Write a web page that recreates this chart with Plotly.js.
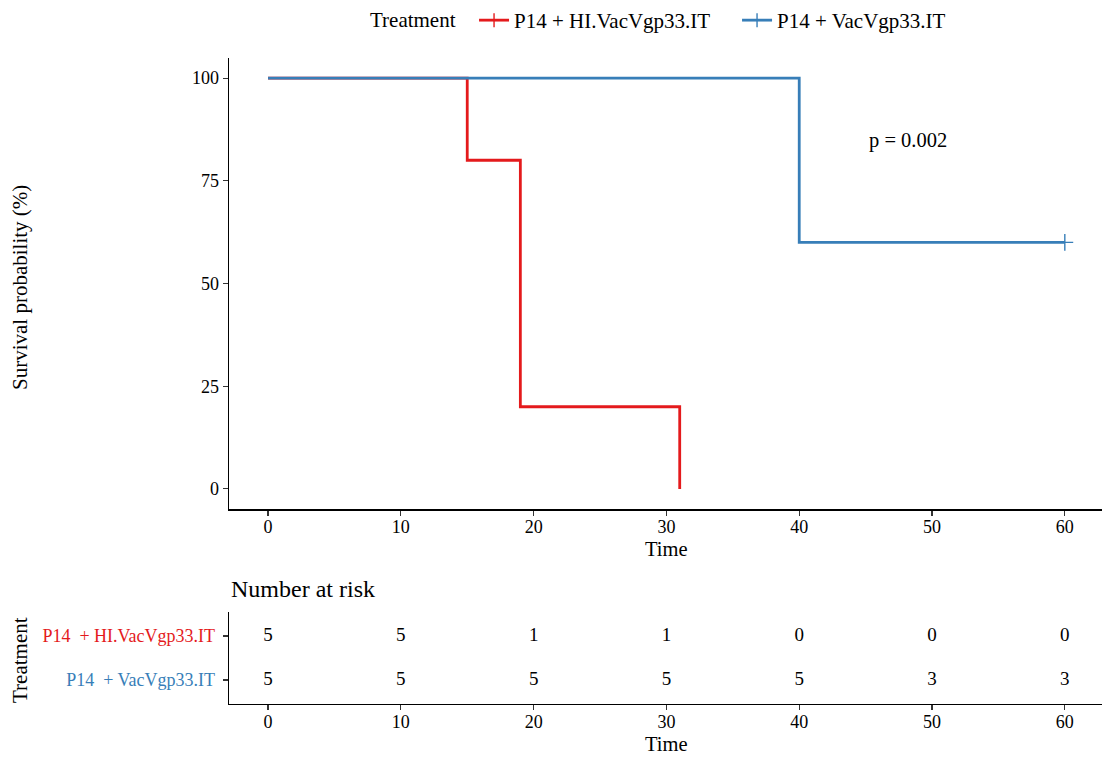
<!DOCTYPE html>
<html>
<head>
<meta charset="utf-8">
<script src="https://cdn.plot.ly/plotly-3.0.1.min.js"></script>
<style>
  html, body { margin: 0; padding: 0; background: #fff; }
  #chart { width: 1102px; height: 758px; }
</style>
</head>
<body>
<div id="chart"></div>
<script>
// Kaplan-Meier survival curves by treatment group
const groupNames = ['P14 + HI.VacVgp33.IT', 'P14 + VacVgp33.IT'];
const tableLabels = ['P14\u00a0 + HI.VacVgp33.IT', 'P14\u00a0 + VacVgp33.IT'];
const groupColors = ['#E41A1C', '#377EB8'];

// step points (time, survival %)
const hiTime = [0, 15, 19, 31];
const hiSurv = [100, 80, 20, 0];
const vacTime = [0, 40, 60];
const vacSurv = [100, 60, 60];

// censored observations
const vacCensorTime = [60];
const vacCensorSurv = [60];

const pValueText = 'p = 0.002';

// number at risk table
const riskTimes = [0, 10, 20, 30, 40, 50, 60];
const hiAtRisk = [5, 5, 1, 1, 0, 0, 0];
const vacAtRisk = [5, 5, 5, 5, 5, 3, 3];

const FONT = '"Liberation Serif", "Times New Roman", serif';
const xRange = [-2.94, 62.8];

const traces = [
  { x: hiTime, y: hiSurv, mode: 'lines', line: { shape: 'hv', color: groupColors[0], width: 2.8 },
    showlegend: false, xaxis: 'x', yaxis: 'y', hoverinfo: 'skip' },
  { x: vacTime, y: vacSurv, mode: 'lines', line: { shape: 'hv', color: groupColors[1], width: 2.8 },
    showlegend: false, xaxis: 'x', yaxis: 'y', hoverinfo: 'skip' },
  { x: vacCensorTime, y: vacCensorSurv, mode: 'markers',
    marker: { symbol: 'cross-thin-open', size: 12, color: groupColors[1],
              line: { color: groupColors[1], width: 1.4 } },
    showlegend: false, xaxis: 'x', yaxis: 'y', hoverinfo: 'skip' },
  // legend keys
  { x: [null], y: [null], mode: 'lines+markers', name: groupNames[0],
    line: { color: groupColors[0], width: 2.8 },
    marker: { symbol: 'line-ns-open', size: 10, color: groupColors[0],
              line: { color: groupColors[0], width: 1.4 } },
    xaxis: 'x', yaxis: 'y' },
  { x: [null], y: [null], mode: 'lines+markers', name: groupNames[1],
    line: { color: groupColors[1], width: 2.8 },
    marker: { symbol: 'line-ns-open', size: 10, color: groupColors[1],
              line: { color: groupColors[1], width: 1.4 } },
    xaxis: 'x', yaxis: 'y' },
  // risk table rows
  { x: riskTimes, y: riskTimes.map(() => 1), text: hiAtRisk.map(String), mode: 'text',
    textfont: { family: FONT, size: 19, color: '#000' }, showlegend: false,
    xaxis: 'x2', yaxis: 'y2', hoverinfo: 'skip' },
  { x: riskTimes, y: riskTimes.map(() => 0), text: vacAtRisk.map(String), mode: 'text',
    textfont: { family: FONT, size: 19, color: '#000' }, showlegend: false,
    xaxis: 'x2', yaxis: 'y2', hoverinfo: 'skip' }
];

const axisCommon = {
  showgrid: false, zeroline: false, showline: true, linecolor: '#000', linewidth: 1.3,
  ticks: 'outside', ticklen: 5, tickwidth: 1.1, tickcolor: '#333',
  tickfont: { family: FONT, size: 18, color: '#000' }
};

const layout = {
  width: 1102, height: 758,
  margin: { l: 229, r: 0, t: 0, b: 0 },
  paper_bgcolor: '#fff', plot_bgcolor: '#fff',
  font: { family: FONT, color: '#000' },
  showlegend: true,
  legend: {
    orientation: 'h', x: 0.1592, xanchor: 'left', y: 1.0, yanchor: 'top',
    title: { text: 'Treatment\u00a0\u00a0', font: { family: FONT, size: 21 } },
    font: { family: FONT, size: 21 }, entrywidth: 218, entrywidthmode: 'pixels'
  },
  xaxis: Object.assign({}, axisCommon, {
    domain: [0, 1], range: xRange, tickvals: riskTimes, anchor: 'y', ticklabelstandoff: -4
  }),
  yaxis: Object.assign({}, axisCommon, {
    domain: [0.3279, 0.9241], range: [-5, 105], tickvals: [0, 25, 50, 75, 100], anchor: 'x'
  }),
  xaxis2: Object.assign({}, axisCommon, {
    domain: [0, 1], range: xRange, tickvals: riskTimes, anchor: 'y2', ticklabelstandoff: -4
  }),
  yaxis2: Object.assign({}, axisCommon, {
    domain: [0.0712, 0.1926], range: [-0.545, 1.545], tickvals: [1, 0],
    ticktext: [
      '<span style="color:' + groupColors[0] + '">' + tableLabels[0] + '</span>',
      '<span style="color:' + groupColors[1] + '">' + tableLabels[1] + '</span>'
    ],
    anchor: 'x2', ticklabelstandoff: 4
  }),
  annotations: [
    { text: pValueText, x: 48.2, y: 84.7, xref: 'x', yref: 'y', showarrow: false,
      xanchor: 'center', yanchor: 'middle', font: { family: FONT, size: 20.5 } },
    { text: 'Survival probability (%)', xref: 'paper', yref: 'paper', x: 0, xshift: -209,
      xanchor: 'center', yanchor: 'middle',
      y: 1 - 288 / 758, textangle: -90, showarrow: false, font: { family: FONT, size: 21 } },
    { text: 'Time', xref: 'x', yref: 'paper', x: 30, y: 1 - 549 / 758, showarrow: false,
      xanchor: 'center', yanchor: 'middle', font: { family: FONT, size: 20.5 } },
    { text: 'Number at risk', xref: 'paper', yref: 'paper', x: 0, xanchor: 'left',
      yanchor: 'middle', y: 1 - 589 / 758, showarrow: false, font: { family: FONT, size: 24 } },
    { text: 'Treatment', xref: 'paper', yref: 'paper', x: 0, xshift: -209,
      xanchor: 'center', yanchor: 'middle',
      y: 1 - 660 / 758, textangle: -90, showarrow: false, font: { family: FONT, size: 21 } },
    { text: 'Time', xref: 'x', yref: 'paper', x: 30, y: 1 - 744 / 758, showarrow: false,
      xanchor: 'center', yanchor: 'middle', font: { family: FONT, size: 20.5 } }
  ]
};

Plotly.newPlot('chart', traces, layout, { staticPlot: true, displayModeBar: false });
</script>
</body>
</html>
